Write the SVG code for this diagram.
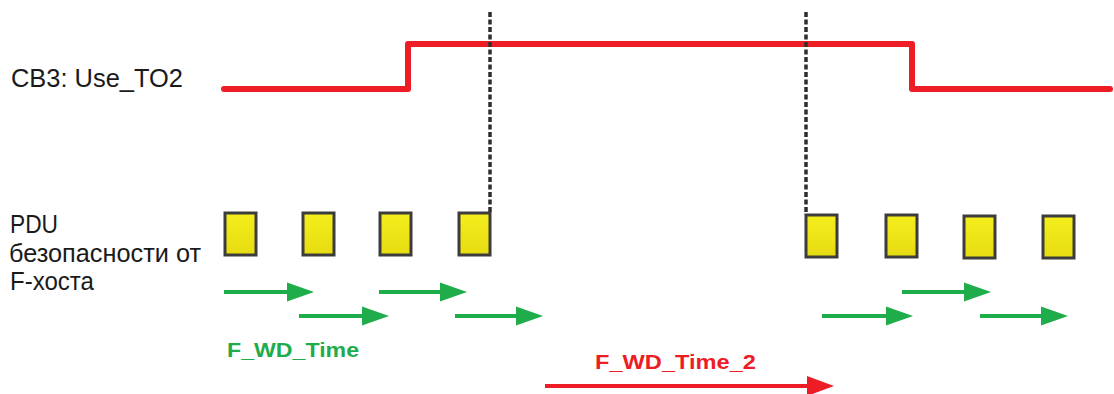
<svg xmlns="http://www.w3.org/2000/svg" width="1114" height="394" viewBox="0 0 1114 394">
  <defs>
    <linearGradient id="yel" x1="0" y1="0" x2="0" y2="1">
      <stop offset="0" stop-color="#f5ee1c"/>
      <stop offset="1" stop-color="#e6dc12"/>
    </linearGradient>
    <marker id="ga" markerUnits="userSpaceOnUse" markerWidth="28" markerHeight="22" refX="6" refY="11" orient="auto">
      <path d="M0,1.5 L27,11 L0,20.5 Z" fill="#1fac4a"/>
    </marker>
    <marker id="ra" markerUnits="userSpaceOnUse" markerWidth="28" markerHeight="22" refX="6" refY="11" orient="auto">
      <path d="M0,1 L27,11 L0,21 Z" fill="#ee1c25"/>
    </marker>
  </defs>
  <style>
    .lbl{font-family:"Liberation Sans",Arial,sans-serif;font-size:25px;fill:#1a1a1a}
    .box{fill:url(#yel);stroke:#3c3c3c;stroke-width:3}
    .dash{stroke:#2e2e2e;stroke-width:3.5;stroke-dasharray:5 2.5;fill:none}
    .sig{stroke:#ee1c25;stroke-width:6;fill:none;stroke-linejoin:round;stroke-linecap:round}
    .garr{stroke:#1fac4a;stroke-width:4;marker-end:url(#ga)}
    .rarr{stroke:#ee1c25;stroke-width:4;marker-end:url(#ra)}
    .bold{font-family:"Liberation Sans",Arial,sans-serif;font-weight:bold;font-size:21px}
  </style>

  <g id="labels">
    <text class="lbl" x="11" y="87" textLength="172" lengthAdjust="spacingAndGlyphs">CB3: Use_TO2</text>
    <text class="lbl" x="10" y="233" textLength="48" lengthAdjust="spacingAndGlyphs">PDU</text>
    <text class="lbl" x="9" y="262" textLength="192" lengthAdjust="spacingAndGlyphs">безопасности от</text>
    <text class="lbl" x="10" y="290" textLength="84" lengthAdjust="spacingAndGlyphs">F-хоста</text>
  </g>

  <g id="signal">
    <path class="sig" d="M224,89 H408 V44 H912 V89 H1110"/>
  </g>

  <g id="markers">
    <line class="dash" x1="490" y1="12" x2="490" y2="213"/>
    <line class="dash" x1="806" y1="12" x2="806" y2="215"/>
  </g>

  <g id="pdus">
    <rect class="box" x="225" y="213" width="31" height="42"/>
    <rect class="box" x="303" y="213" width="31" height="42"/>
    <rect class="box" x="380" y="213" width="31" height="42"/>
    <rect class="box" x="459" y="213" width="31" height="42"/>
    <rect class="box" x="806" y="215" width="31" height="42"/>
    <rect class="box" x="886" y="215" width="31" height="42"/>
    <rect class="box" x="964" y="216" width="31" height="42"/>
    <rect class="box" x="1043" y="216" width="31" height="42"/>
  </g>

  <g id="connectors">
    <line class="garr" x1="224" y1="292" x2="293" y2="292"/>
    <line class="garr" x1="379" y1="292" x2="446" y2="292"/>
    <line class="garr" x1="299" y1="316" x2="368" y2="316"/>
    <line class="garr" x1="455" y1="316" x2="522" y2="316"/>
    <line class="garr" x1="902" y1="292" x2="970" y2="292"/>
    <line class="garr" x1="822" y1="316" x2="892" y2="316"/>
    <line class="garr" x1="980" y1="316" x2="1047" y2="316"/>
    <line class="rarr" x1="545" y1="386" x2="813" y2="386"/>
  </g>

  <g id="timelabels">
    <text class="bold" x="227" y="357" fill="#1fac4a" textLength="132" lengthAdjust="spacingAndGlyphs">F_WD_Time</text>
    <text class="bold" x="595" y="369" fill="#ee1c25" textLength="161" lengthAdjust="spacingAndGlyphs">F_WD_Time_2</text>
  </g>
</svg>
